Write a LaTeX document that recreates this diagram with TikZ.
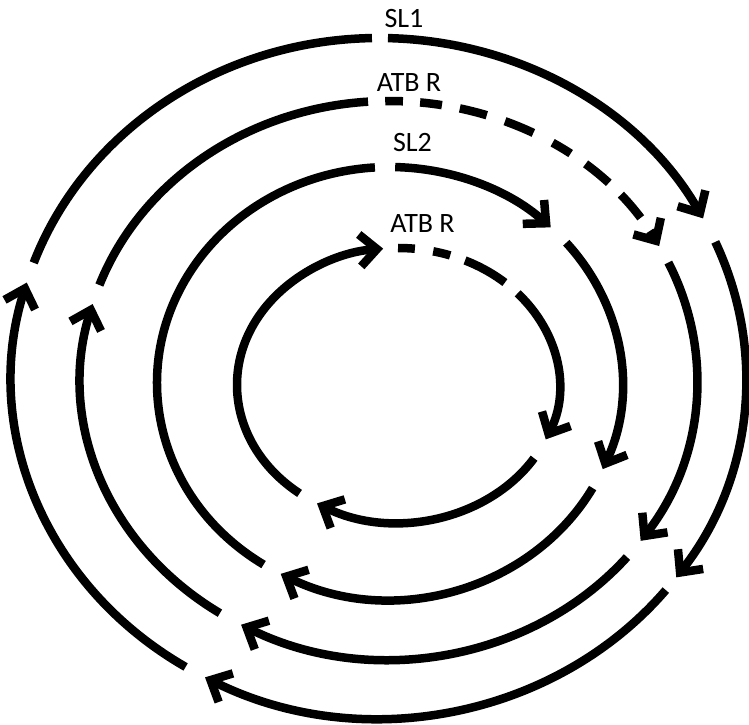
\documentclass[tikz,border=0pt]{standalone}
\usepackage{fontspec}
\setmainfont{Carlito}
\usetikzlibrary{arrows.meta}
\tikzstyle{ring} = [draw, line width=8.5pt]
\tikzstyle{ringname} = [font=\fontsize{28}{33}\selectfont, anchor=base, inner sep=0pt]

\begin{document}
\begin{tikzpicture}[x=1pt, y=1pt, >={Straight Barb[length=17pt, width=32pt]}]
    \useasboundingbox (0,0) rectangle (749,724);
    % centres of the four rings (hand drawn, so they do not quite agree)
    \coordinate (c1) at (379,346);
    \coordinate (c2) at (389,344);
    \coordinate (c3) at (389.5,341);
    \coordinate (c4) at (398,339);

    % names on top of the rings
    \node [ringname] (sl1) at (404,696) {SL1};
    \node [ringname] (atbouter) at (409,632) {ATB R};
    \node [ringname] (sl2) at (412.5,572) {SL2};
    \node [ringname] (atbinner) at (422.5,491) {ATB R};

    % outer ring (SL1), four arrows clockwise
    \draw [ring,->] (c1) ++(88.6:367 and 340) arc [start angle=88.6, end angle=28, x radius=367, y radius=340];
    \draw [ring,->] (c1) ++(23.6:367 and 340) arc [start angle=23.6, end angle=-35.9, x radius=367, y radius=340];
    \draw [ring,->] (c1) ++(-38.6:367 and 340) arc [start angle=-38.6, end angle=-118.3, x radius=367, y radius=340];
    \draw [ring,->] (c1) ++(-121.8:367 and 340) arc [start angle=-121.8, end angle=-196.3, x radius=367, y radius=340];
    \draw [ring] (c1) ++(160.2:367 and 340) arc [start angle=160.2, end angle=91.1, x radius=367, y radius=340];

    % second ring (ATB R), dashed over the top
    \draw [ring] (c2) ++(160.1:308 and 279) arc [start angle=160.1, end angle=93.9, x radius=308, y radius=279];
    \draw [ring,->,dash pattern=on 17.7pt off 17.2pt on 22pt off 18.2pt on 27.8pt off 19.2pt on 30.7pt off 21.6pt on 21pt off 18.2pt on 30pt off 16.9pt on 30.5pt off 16pt on 60pt off 10pt]
        (c2) ++(90.7:308 and 279) arc [start angle=90.7, end angle=28.7, x radius=308, y radius=279];
    \draw [ring,->] (c2) ++(24.9:308 and 279) arc [start angle=24.9, end angle=-35.2, x radius=308, y radius=279];
    \draw [ring,->] (c2) ++(-39.4:308 and 279) arc [start angle=-39.4, end angle=-118.7, x radius=308, y radius=279];
    \draw [ring,->] (c2) ++(-123.3:308 and 279) arc [start angle=-123.3, end angle=-195.8, x radius=308, y radius=279];

    % third ring (SL2), three arrows
    \draw [ring,->] (c3) ++(88.6:232.5 and 216) arc [start angle=88.6, end angle=46.1, x radius=232.5, y radius=216];
    \draw [ring,->] (c3) ++(40.5:232.5 and 216) arc [start angle=40.5, end angle=-23.5, x radius=232.5, y radius=216];
    \draw [ring,->] (c3) ++(-29.1:232.5 and 216) arc [start angle=-29.1, end angle=-117.9, x radius=232.5, y radius=216];
    \draw [ring] (c3) ++(-122.8:232.5 and 216) arc [start angle=-122.8, end angle=-266.4, x radius=232.5, y radius=216];

    % inner ring (ATB R), dashed at the top
    \draw [ring,dash pattern=on 16.9pt off 18.5pt on 17.5pt off 15.7pt on 60pt off 10pt]
        (c4) ++(90:161 and 137) arc [start angle=90, end angle=48.4, x radius=161, y radius=137];
    \draw [ring,->] (c4) ++(42:161 and 137) arc [start angle=42, end angle=-23.4, x radius=161, y radius=137];
    \draw [ring,->] (c4) ++(-32.3:161 and 137) arc [start angle=-32.3, end angle=-120.2, x radius=161, y radius=137];
    \draw [ring,->] (c4) ++(-127.7:161 and 137) arc [start angle=-127.7, end angle=-264.7, x radius=161, y radius=137];
\end{tikzpicture}
\end{document}
